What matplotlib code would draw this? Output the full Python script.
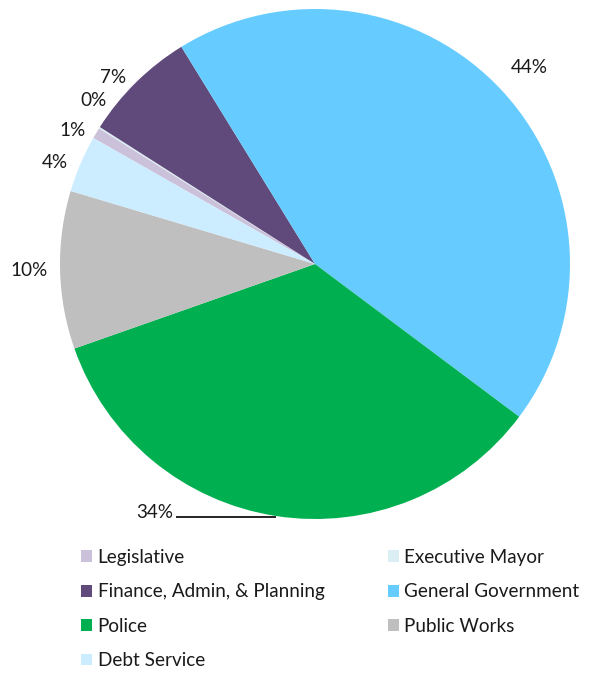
import numpy as np
import matplotlib
matplotlib.use("Agg")
import matplotlib.pyplot as plt
from matplotlib.patches import Patch

plt.rcParams['font.family'] = ['Lato', 'DejaVu Sans']

# Budget share by department (percent)
departments = ["Legislative", "Executive Mayor", "Finance, Admin, & Planning",
               "General Government", "Police", "Public Works", "Debt Service"]
shares = [0.7, 0.1, 7.2, 44.0, 34.4, 10.0, 3.6]
colors = ["#CCC1DA", "#DAEEF3", "#604A7B", "#66CCFF", "#00B050", "#BFBFBF", "#CCECFF"]

# label placement: radial distance (pie radii) and angular nudge (degrees, clockwise)
label_radius = [1.087, 1.08, 1.08, 1.14, None, 1.12, 1.095]
label_nudge = [-2.0, 4.0, -2.7, 0.0, 0.0, 0.0, -1.8]

W, H, DPI = 603, 673, 100
cx, cy, R = 315, 264, 255

fig = plt.figure(figsize=(W / DPI, H / DPI), dpi=DPI)
ax = fig.add_axes([(cx - R) / W, 1 - (cy + R) / H, 2 * R / W, 2 * R / H])
ax.axis('off')

start = 150.4
wedges, _ = ax.pie(shares, colors=colors, startangle=start, counterclock=False,
                   radius=1.0, wedgeprops=dict(linewidth=0))
ax.set_xlim(-1, 1)
ax.set_ylim(-1, 1)
ax.set_aspect('equal')

total = sum(shares)
fs = 13.6
tc = "#1a1a1a"
for i, (w, v) in enumerate(zip(wedges, shares)):
    mid = np.deg2rad((w.theta1 + w.theta2) / 2.0)
    txt = f"{v / total * 100:.0f}%"
    if label_radius[i] is None:
        ex, ey = np.cos(mid), np.sin(mid)
        tx = (173 - cx) / R
        ax.plot([tx + 0.012, ex], [ey - 0.004, ey - 0.004], color="black", lw=1.2,
                solid_capstyle='butt', clip_on=False)
        ax.text(tx, ey + 0.015, txt, ha='right', va='center', fontsize=fs, color=tc)
        continue
    ang = mid - np.deg2rad(label_nudge[i])
    r = label_radius[i]
    ax.text(r * np.cos(ang), r * np.sin(ang), txt, ha='center', va='center',
            fontsize=fs, color=tc)

order = [0, 2, 4, 6, 1, 3, 5]
handles = [Patch(facecolor=colors[k], edgecolor='none', label=departments[k]) for k in order]
fig.legend(handles=handles, ncol=2, loc='upper left',
           bbox_to_anchor=(81 / W, 1 - 549 / H), frameon=False, fontsize=fs,
           handlelength=0.58, handleheight=0.58, handletextpad=0.3,
           columnspacing=3.35, labelspacing=0.92, borderpad=0, borderaxespad=0,
           labelcolor=tc)

fig.savefig("out.png", dpi=DPI)
